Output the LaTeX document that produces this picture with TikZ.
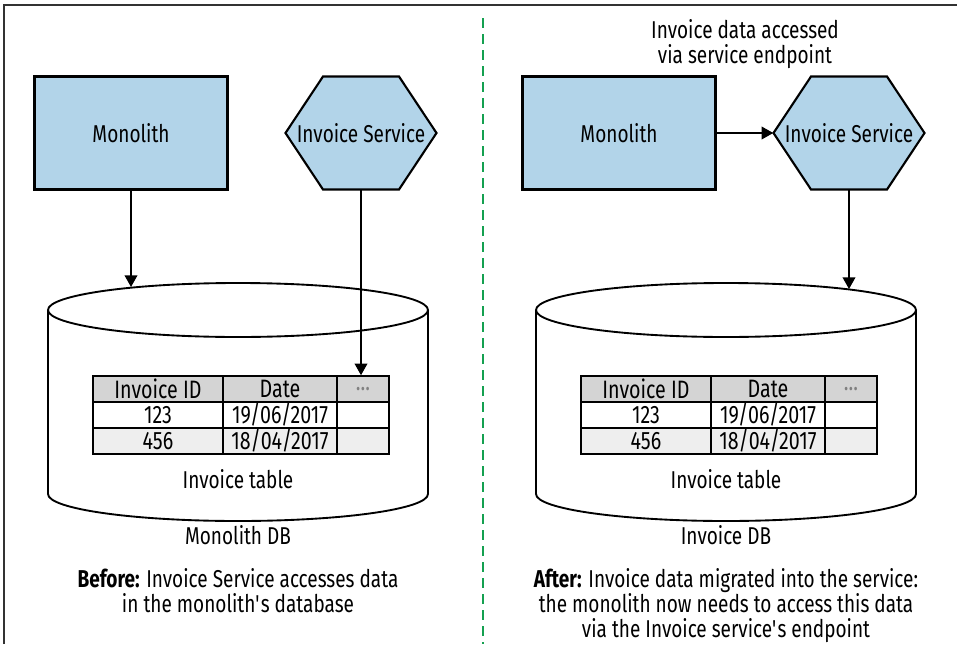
\documentclass[tikz,border=0pt]{standalone}
\usepackage{fontspec}
\setmainfont{Fira Sans}[FakeStretch=0.78]
\usetikzlibrary{arrows.meta, positioning, calc}
\definecolor{SvcBlue}{RGB}{178,212,233}
\definecolor{HdrGray}{RGB}{212,212,212}
\definecolor{RowGray}{RGB}{238,238,238}
\definecolor{SplitGreen}{RGB}{20,160,80}
\definecolor{FrameGray}{RGB}{50,50,50}
\newdimen\pxu \pxu=0.03cm

\begin{document}
\begin{tikzpicture}[x=0.03cm, y=-0.03cm,
    comp/.style={draw, line width=1.8pt, fill=SvcBlue, minimum width=193\pxu,
                 minimum height=113\pxu, font=\fontsize{20.8}{23}\selectfont},
    svc/.style={inner sep=0pt, minimum width=151\pxu, minimum height=113\pxu,
                font=\fontsize{20.8}{23}\selectfont},
    hexline/.style={draw, line width=1.8pt, fill=SvcBlue, line join=miter},
    cell/.style={draw, line width=1.3pt, minimum height=26\pxu, inner sep=0pt,
                 font=\fontsize{21.5}{22}\selectfont},
    dbline/.style={line width=1.6pt},
    lbl/.style={font=\fontsize{20.8}{21.5}\selectfont, align=center},
    arr/.style={-{Triangle[length=0.35cm, width=0.38cm]}, line width=1.4pt}
  ]
  \useasboundingbox (0,0) rectangle (957,644);

  % frame and split line
  \draw[FrameGray, line width=0.06cm] (4,644) -- (4,5) -- (957,5);
  \draw[SplitGreen, line width=0.08cm, dash pattern=on 0.3cm off 0.18cm]
        (483,18) -- (483,644);

  % both panels share the same parts
  \foreach \dx/\side/\dbname in {0/L/Monolith DB, 488/R/Invoice DB} {
    \begin{scope}[xshift={\dx*0.03cm}]
      \node[comp] (mono\side) at (131,133) {Monolith};
      % hexagon outline, then its label on top
      \draw[hexline] (285.5,133) -- (323,76.5) -- (399,76.5) -- (436.5,133)
            -- (399,189.5) -- (323,189.5) -- cycle;
      \node[svc] (inv\side) at (361,133) {Invoice Service};

      % database cylinder
      \draw[dbline, fill=white] (48,310) -- (48,494)
            arc[start angle=180, end angle=0, x radius=190, y radius=27]
            -- (428,310);
      \draw[dbline] (238,310) ellipse [x radius=190, y radius=27];

      % invoice table
      \node[cell, fill=HdrGray, minimum width=130\pxu] (hda\side) at (158,389) {Invoice ID};
      \node[cell, fill=HdrGray, minimum width=114\pxu] (hdb\side) at (280,389) {Date};
      \node[cell, fill=HdrGray, minimum width=52\pxu]  (hdc\side) at (363,389) {\textcolor{gray}{...}};
      \node[cell, fill=white,   minimum width=130\pxu] (ra\side) at (158,415) {123};
      \node[cell, fill=white,   minimum width=114\pxu] (rb\side) at (280,415) {19/06/2017};
      \node[cell, fill=white,   minimum width=52\pxu]  (rc\side) at (363,415) {};
      \node[cell, fill=RowGray, minimum width=130\pxu] (sa\side) at (158,441) {456};
      \node[cell, fill=RowGray, minimum width=114\pxu] (sb\side) at (280,441) {18/04/2017};
      \node[cell, fill=RowGray, minimum width=52\pxu]  (sc\side) at (363,441) {};

      \node[lbl] (tbl\side) at (238,479) {Invoice table};
      \node[lbl] (db\side)  at (238,535) {\dbname};
    \end{scope}
  }

  % before
  \coordinate (hitL) at (131,287);
  \draw[arr] (monoL.south) -- (hitL);
  \draw[arr] (invL.south) -- (invL.south |- hdcL.north);
  \node[lbl, anchor=north] (capL) at (238,564)
        {\textbf{Before:} Invoice Service accesses data\\in the monolith\textquotesingle s database};

  % after
  \coordinate (hitR) at (849,289);
  \draw[arr] (monoR.east) -- (invR.west);
  \draw[arr] (invR.south) -- (hitR);
  \node[lbl] (viaep) at (745,44) {Invoice data accessed\\via service endpoint};
  \node[lbl, anchor=north] (capR) at (726,564)
        {\textbf{After:} Invoice data migrated into the service:\\the monolith now needs to access this data\\via the Invoice service\textquotesingle s endpoint};
\end{tikzpicture}
\end{document}
